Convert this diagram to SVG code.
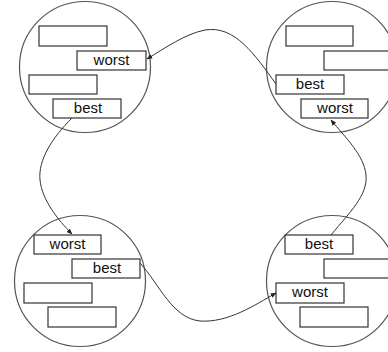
<svg xmlns="http://www.w3.org/2000/svg" width="388" height="352" viewBox="0 0 388 352">
<defs>
<style>
.c{fill:none;stroke:#555;stroke-width:1.2}
.b{fill:#fff;stroke:#333;stroke-width:1.2}
.t{font-family:"Liberation Sans",Arial,sans-serif;font-size:15px;fill:#111;text-anchor:middle}
.e{fill:none;stroke:#333;stroke-width:1;marker-end:url(#a)}
</style>
<marker id="a" viewBox="0 0 10 10" refX="9" refY="5" markerWidth="6" markerHeight="6" orient="auto" markerUnits="userSpaceOnUse">
<path d="M0,1 L10,5 L0,9 z" fill="#222"/>
</marker>
</defs>
<rect width="388" height="352" fill="#fff"/>
<g id="tl">
<circle class="c" cx="85" cy="67" r="65.5"/>
<rect class="b" x="39" y="26" width="68" height="20"/>
<rect class="b" x="77" y="51" width="69" height="19"/>
<text class="t" x="111.5" y="65">worst</text>
<rect class="b" x="29" y="75" width="68" height="19"/>
<rect class="b" x="53" y="99" width="68" height="19"/>
<text class="t" x="88" y="113">best</text>
</g>
<g id="tr">
<circle class="c" cx="332" cy="67" r="65.5"/>
<rect class="b" x="286" y="26" width="67" height="20"/>
<rect class="b" x="324" y="51" width="69" height="19"/>
<rect class="b" x="276" y="75" width="68" height="19"/>
<text class="t" x="310" y="89">best</text>
<rect class="b" x="301" y="99" width="67" height="19"/>
<text class="t" x="335" y="113">worst</text>
</g>
<g id="bl">
<circle class="c" cx="80" cy="281" r="65.5"/>
<rect class="b" x="34" y="235" width="67" height="19"/>
<text class="t" x="67.5" y="249">worst</text>
<rect class="b" x="72" y="259" width="68" height="19"/>
<text class="t" x="107" y="273">best</text>
<rect class="b" x="24" y="283" width="68" height="20"/>
<rect class="b" x="48" y="307" width="68" height="20"/>
</g>
<g id="br">
<circle class="c" cx="332" cy="281" r="65.5"/>
<rect class="b" x="285" y="235" width="68" height="19"/>
<text class="t" x="319" y="249">best</text>
<rect class="b" x="324" y="259" width="68" height="19"/>
<rect class="b" x="276" y="283" width="68" height="20"/>
<text class="t" x="310" y="297">worst</text>
<rect class="b" x="300" y="307" width="68" height="20"/>
</g>
<g id="connectors">
<path class="e" d="M276,84 C255,55 235,25 205,30 C185,34 165,48 147,59"/>
<path class="e" d="M72,118 C52,138 38,160 40,180 C42,200 58,220 72,234"/>
<path class="e" d="M140,263 C160,285 172,318 200,321 C228,323 255,305 276,293"/>
<path class="e" d="M331,235 C350,212 368,195 366,175 C364,155 345,137 331,120"/>
</g>
</svg>
